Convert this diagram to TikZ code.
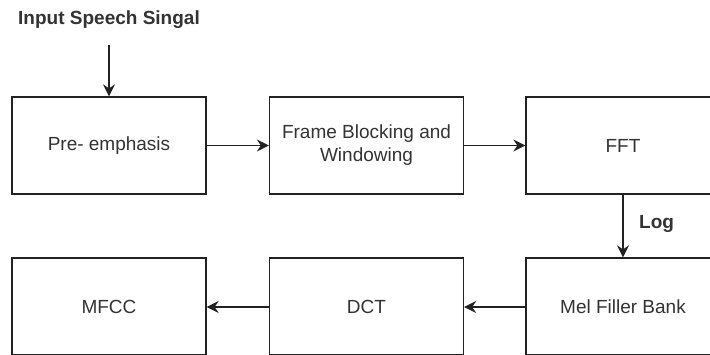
\documentclass[tikz,border=0pt]{standalone}
\usepackage{fontspec}
\setmainfont{Liberation Sans}
\usetikzlibrary{arrows.meta}
\definecolor{txt}{HTML}{333333}
\definecolor{ln}{HTML}{222222}
\tikzset{
  blk/.style={draw=ln, line width=1.3pt, minimum width=194pt, minimum height=97pt, inner sep=0pt, align=center, text=txt, font=\fontsize{19}{23}\selectfont},
  conn/.style={draw=ln, line width=1.3pt, -{Stealth[length=12pt,width=12pt,inset=4pt]}},
  lbl/.style={text=txt, font=\fontsize{19}{23}\selectfont\bfseries, inner sep=0pt}
}
\begin{document}
\begin{tikzpicture}[x=1pt,y=-1pt]
\useasboundingbox (0,0) rectangle (710,354);
\clip (0,0) rectangle (710,354);
\fill[white] (0,0) rectangle (710,354);
\node[lbl] (in) at (109,20) {Input Speech Singal};
\coordinate (inS) at (109,45);
\node[blk] (pre) at (109,145.5) {Pre- emphasis};
\node[blk] (fbw) at (366.5,145.5) {Frame Blocking and\\Windowing};
\node[blk] (fft) at (623,145.5) {FFT};
\node[blk] (mfcc) at (109,306.5) {};
\node[blk] (dct) at (366.5,306.5) {};
\node[blk] (mel) at (623,306.5) {};
\node[text=txt, font=\fontsize{19}{23}\selectfont] at (109,307) {MFCC};
\node[text=txt, font=\fontsize{19}{23}\selectfont] at (366.5,307) {DCT};
\node[text=txt, font=\fontsize{19}{23}\selectfont] at (623,307) {Mel Filler Bank};
\node[lbl, anchor=west] (log) at (639,224) {Log};
\draw[conn] (inS) -- (pre.north);
\draw[conn] (pre.east) -- (fbw.west);
\draw[conn] (fbw.east) -- (fft.west);
\draw[conn] (fft.south) -- (mel.north);
\draw[conn] (mel.west |- 0,307) -- (dct.east |- 0,307);
\draw[conn] (dct.west |- 0,307) -- (mfcc.east |- 0,307);
\end{tikzpicture}
\end{document}
